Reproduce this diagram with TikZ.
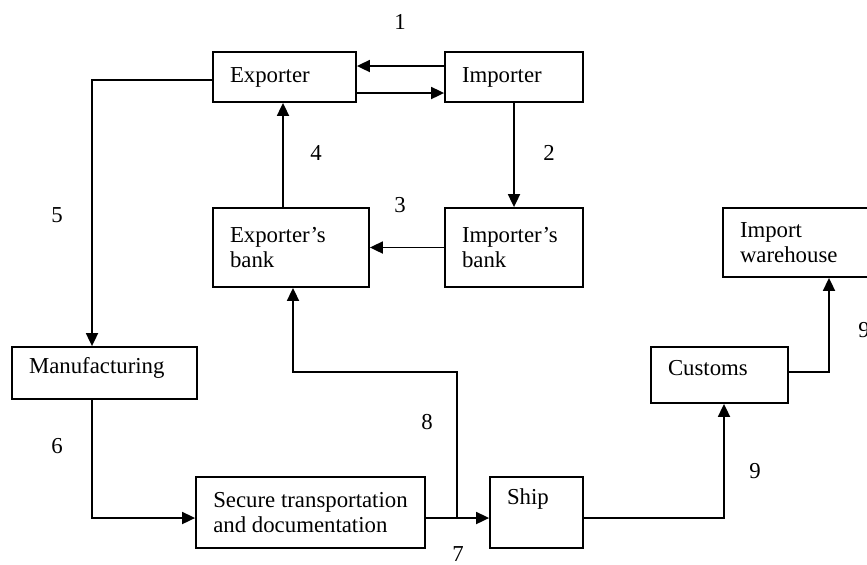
\documentclass[tikz,border=0pt]{standalone}
\usepackage{fontspec}
\setmainfont{Liberation Serif}
\usepackage{tikz}
\usetikzlibrary{arrows.meta}

\begin{document}
\begin{tikzpicture}[x=0.5pt,y=-0.5pt,line width=0.9pt,>={Triangle[length=6.5pt,width=6pt]},font=\fontsize{11.4}{12.5}\selectfont,main box/.style={draw,align=left,inner xsep=8.5pt,inner ysep=0pt},num/.style={inner sep=0pt}]
    \useasboundingbox (0,0) rectangle (867,564);
    \clip (0,0) rectangle (867,564);

    \node[main box,text width=54.5pt,minimum height=25pt] (exp) at (284.5,77) {Exporter};
    \node[main box,text width=52pt,minimum height=25pt] (imp) at (514,77) {Importer};
    \node[main box,text width=61pt,minimum height=39.5pt] (expbank) at (291,247.5) {Exporter's\\bank};
    \node[main box,text width=52pt,minimum height=39.5pt] (impbank) at (514,247.5) {Importer's\\bank};
    \node[main box,text width=59pt,minimum height=34.5pt] (whouse) at (799,242.5) {Import\\warehouse};
    \node[main box,text width=75.5pt,minimum height=26pt,text depth=8pt] (manuf) at (104.5,373) {Manufacturing};
    \node[main box,text width=51.5pt,minimum height=28pt,text depth=7pt] (customs) at (719.5,375) {Customs};
    \node[main box,minimum width=114.5pt,minimum height=35.5pt] (secure) at (310.5,512.5) {Secure transportation\\and documentation};
    \node[main box,text width=29.5pt,minimum height=35.5pt,text depth=15.5pt] (ship) at (536.5,512.5) {Ship};
    \coordinate (split) at (457,518);

    \path[->]
    (imp.west |- 0,66) edge (exp.east |- 0,66)
    (exp.east |- 0,93) edge (imp.west |- 0,93)
    (imp) edge (impbank)
    (impbank) edge (expbank)
    (expbank.north -| 283,0) edge (exp.south -| 283,0)
    (secure.east |- split) edge (ship.west |- split);

    \draw[->] (exp.west |- 0,80) -| (manuf.north -| 92,0);
    \draw[->] (manuf.south -| 92,0) |- (secure.west |- split);
    \draw[->] (split) -- (split |- 0,372) -| (expbank.south -| 293,0);
    \draw[->] (ship.east |- split) -| (customs.south -| 724,0);
    \draw[->] (customs.east |- 0,372) -| (whouse.south -| 829,0);

    \node[num] (n1) at (400,22) {1};
    \node[num] (n2) at (549,153) {2};
    \node[num] (n3) at (400,205) {3};
    \node[num] (n4) at (316,153) {4};
    \node[num] (n5) at (57,215) {5};
    \node[num] (n6) at (57,446) {6};
    \node[num] (n7) at (458,554) {7};
    \node[num] (n8) at (427,422) {8};
    \node[num] (n9a) at (755,471) {9};
    \node[num] (n9b) at (864,330) {9};
\end{tikzpicture}
\end{document}
